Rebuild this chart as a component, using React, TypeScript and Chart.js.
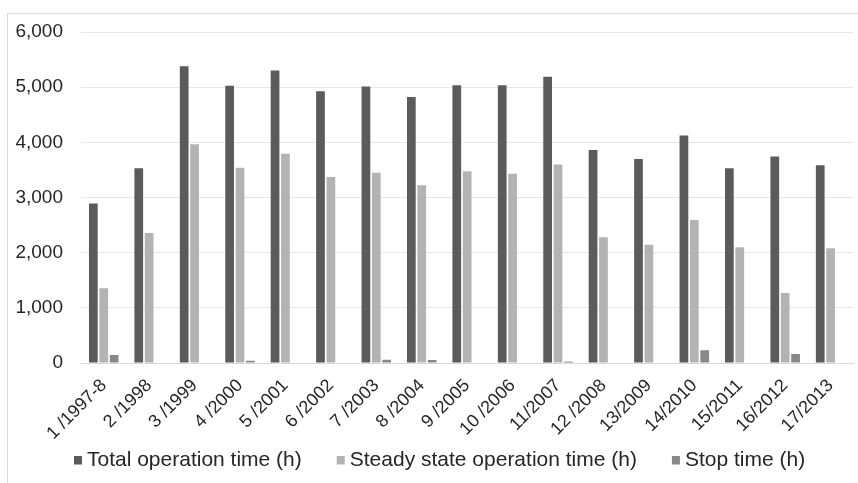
import React, { useEffect, useRef } from "react";
import { Chart, registerables } from "chart.js";

Chart.register(...registerables);

const categories = [
  "1 /1997-8", "2 /1998", "3 /1999", "4 /2000", "5 /2001", "6 /2002",
  "7 /2003", "8 /2004", "9 /2005", "10 /2006", "11/2007", "12 /2008",
  "13/2009", "14/2010", "15/2011", "16/2012", "17/2013",
];

const totalOperation = [2890, 3530, 5380, 5025, 5300, 4925, 5010, 4820, 5035, 5035, 5190, 3860, 3700, 4125, 3530, 3745, 3585];
const steadyOperation = [1355, 2356, 3965, 3540, 3795, 3370, 3450, 3220, 3475, 3430, 3600, 2280, 2145, 2590, 2100, 1270, 2080];
const stopTime = [145, 0, 0, 40, 0, 0, 60, 55, 0, 0, 25, 0, 0, 230, 0, 163, 0];

const seriesNames = ["Total operation time (h)", "Steady state operation time (h)", "Stop time (h)"];
const yTicks = [0, 1000, 2000, 3000, 4000, 5000, 6000];

const FONT = '"Liberation Sans", Arial, sans-serif';
const TEXT = "#262626";
const COLORS = ["#5b5b5b", "#b3b3b3", "#888888"];

const legendPlugin = {
  id: "customLegend",
  afterDraw(chart: any) {
    const ctx = chart.ctx;
    ctx.save();
    ctx.font = `21px ${FONT}`;
    ctx.textBaseline = "middle";
    ctx.textAlign = "left";
    let x = 74;
    const y = chart.chartArea.bottom + 97.5;
    chart.data.datasets.forEach((ds: any) => {
      ctx.fillStyle = ds.backgroundColor;
      ctx.fillRect(x, y - 4.5, 8, 8.5);
      x += 8 + 5;
      ctx.fillStyle = TEXT;
      ctx.fillText(ds.label, x, y);
      x += ctx.measureText(ds.label).width + 35;
    });
    ctx.restore();
  },
};

export default function App() {
  const ref = useRef<HTMLCanvasElement | null>(null);

  useEffect(() => {
    if (!ref.current) return;
    const chart = new Chart(ref.current, {
      type: "bar",
      data: {
        labels: categories,
        datasets: [
          { label: seriesNames[0], data: totalOperation, backgroundColor: COLORS[0] },
          { label: seriesNames[1], data: steadyOperation, backgroundColor: COLORS[1] },
          { label: seriesNames[2], data: stopTime, backgroundColor: COLORS[2] },
        ],
      },
      options: {
        responsive: false,
        animation: false,
        devicePixelRatio: 1,
        layout: { padding: { left: 0, right: 4, top: 32, bottom: 0 } },
        datasets: {
          bar: { categoryPercentage: 0.686, barPercentage: 0.84 },
        },
        plugins: {
          legend: { display: false },
          tooltip: { enabled: false },
          title: { display: false },
        },
        scales: {
          x: {
            grid: { display: false, drawTicks: false },
            border: { display: true, color: "#d9d9d9", width: 1 },
            ticks: {
              autoSkip: false,
              minRotation: 45,
              maxRotation: 45,
              padding: 12,
              color: TEXT,
              font: { family: FONT, size: 18 },
            },
            afterFit(scale: any) {
              scale.height = 120;
            },
          },
          y: {
            min: 0,
            max: 6000,
            afterBuildTicks(scale: any) {
              scale.ticks = yTicks.map((v) => ({ value: v }));
            },
            grid: { color: "#e6e6e6", lineWidth: 1, drawTicks: false },
            border: { display: false },
            ticks: {
              padding: 18,
              color: TEXT,
              font: { family: FONT, size: 19 },
              callback: (v: any) => Number(v).toLocaleString("en-US"),
            },
            afterFit(scale: any) {
              scale.width = 81;
            },
          },
        },
      },
      plugins: [legendPlugin],
    });
    return () => chart.destroy();
  }, []);

  return (
    <div style={{ position: "fixed", left: 0, top: 0, width: 858, height: 483, background: "#fff", overflow: "hidden" }}>
      <div
        style={{
          position: "absolute",
          left: 7,
          top: 13,
          width: 870,
          height: 480,
          border: "1.5px solid #dcdcdc",
          boxSizing: "border-box",
        }}
      />
      <canvas ref={ref} width={858} height={483} style={{ position: "absolute", left: 0, top: 0, width: 858, height: 483 }} />
    </div>
  );
}
